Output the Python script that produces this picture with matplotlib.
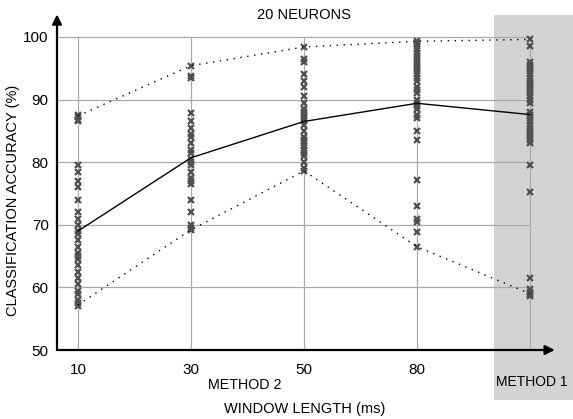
import numpy as np
import matplotlib
matplotlib.use("Agg")
import matplotlib.pyplot as plt
from matplotlib.patches import Rectangle

plt.rcParams['font.family'] = ['Liberation Sans', 'DejaVu Sans']

# window lengths (method 2) + method 1 column
tick_labels = ['10', '30', '50', '80', '']
pos = np.arange(5)

mean_acc = [69.0, 80.7, 86.5, 89.4, 87.6]
upper_acc = [87.4, 95.4, 98.4, 99.3, 99.6]
lower_acc = [57.2, 69.2, 78.6, 66.5, 59.0]

# individual runs
runs_10 = [87.6, 87.2, 86.8, 86.5, 79.5, 78.5, 77.0, 76.0, 74.0, 72.0, 71.0, 70.0,
           69.0, 68.5, 67.5, 66.5, 65.5, 65.0, 64.5, 63.5, 62.5, 61.5, 60.5, 59.5,
           59.0, 58.0, 57.5, 57.0]
runs_30 = [95.4, 93.8, 93.5, 87.8, 86.5, 85.5, 84.5, 84.0, 83.0, 82.0, 81.5, 80.5,
           80.0, 79.5, 78.5, 77.5, 77.0, 76.5, 74.0, 72.0, 70.0, 69.5, 69.2]
runs_50 = [98.4, 96.5, 96.0, 94.0, 93.0, 92.0, 90.5, 89.5, 88.5, 88.0, 87.5, 87.0,
           86.5, 86.0, 85.0, 84.0, 83.5, 83.0, 82.5, 82.0, 81.5, 81.0, 80.0, 79.0,
           78.6]
runs_80 = [99.3, 99.0, 98.5, 98.0, 97.5, 97.0, 96.5, 96.0, 95.5, 95.0, 94.5, 94.0,
           93.5, 93.0, 92.0, 91.5, 91.0, 90.0, 89.5, 89.0, 88.5, 87.5, 87.0, 85.0,
           83.5, 77.2, 73.0, 71.0, 70.5, 68.8, 66.5]
runs_m1 = [99.6, 98.5, 96.0, 95.5, 95.0, 94.5, 94.0, 93.5, 93.0, 92.5, 92.0, 91.5,
           91.0, 90.5, 90.0, 89.5, 88.0, 87.5, 87.0, 86.5, 86.0, 85.5, 85.0, 84.5,
           84.0, 83.5, 83.0, 79.5, 75.2, 61.5, 59.8, 59.3, 59.0, 58.7]
runs = [runs_10, runs_30, runs_50, runs_80, runs_m1]

fig = plt.figure(figsize=(5.73, 4.19), dpi=100)
ax = fig.add_axes([57/573, 1-350/419, 496/573, 335/419])
ax.set_xlim(-0.186, 4.204)
ax.set_ylim(50, 103.5)
ax.patch.set_facecolor('none')

# shaded method 1 area (behind the axes)
fig.patches.append(Rectangle((494/573, 1-400/419), 79/573, 385/419,
                             transform=fig.transFigure, facecolor='#d3d3d3',
                             edgecolor='none', zorder=-1))

# grid
for p in pos:
    ax.plot([p, p], [50, 100], color='#aaaaaa', lw=0.9, zorder=1)
for yv in [60, 70, 80, 90, 100]:
    ax.plot([-0.186, 4], [yv, yv], color='#aaaaaa', lw=0.9, zorder=1)

for p, r in zip(pos, runs):
    ax.plot([p]*len(r), r, 'x', color='#505050', ms=4.6, mew=1.6, zorder=3)

ax.plot(pos, mean_acc, color='black', lw=1.0, zorder=4)
ax.plot(pos, upper_acc, color='black', lw=1.0, ls=(0, (1, 4)), zorder=4)
ax.plot(pos, lower_acc, color='black', lw=1.0, ls=(0, (1, 4)), zorder=4)

for s in ax.spines.values():
    s.set_visible(False)
ax.annotate('', xy=(-0.186, 103.6), xytext=(-0.186, 50),
            arrowprops=dict(arrowstyle='-|>', color='black', lw=1.6,
                            mutation_scale=14, shrinkA=0, shrinkB=0),
            annotation_clip=False)
ax.annotate('', xy=(4.22, 50), xytext=(-0.186, 50),
            arrowprops=dict(arrowstyle='-|>', color='black', lw=1.6,
                            mutation_scale=14, shrinkA=0, shrinkB=0),
            annotation_clip=False)

ax.set_xticks(pos[:4])
ax.set_xticklabels(tick_labels[:4], fontsize=11)
ax.set_yticks([50, 60, 70, 80, 90, 100])
ax.set_yticklabels(['50', '60', '70', '80', '90', '100'], fontsize=11)
ax.tick_params(axis='y', length=0, pad=6)
ax.tick_params(axis='x', length=0, pad=9)

fig.text(13/573, 1-200/419, 'CLASSIFICATION ACCURACY (%)', rotation=90,
         ha='center', va='center', fontsize=10.5)
ax.text(2.0, 103.5, '20 NEURONS', ha='center', va='center', fontsize=10.5)
fig.text(245/573, 1-385/419, 'METHOD 2', ha='center', va='center', fontsize=10.3)
fig.text(305/573, 1-409/419, 'WINDOW LENGTH (ms)', ha='center', va='center', fontsize=10.5)
fig.text(532/573, 1-382/419, 'METHOD 1', ha='center', va='center', fontsize=10)

fig.savefig('out.png', dpi=100)
